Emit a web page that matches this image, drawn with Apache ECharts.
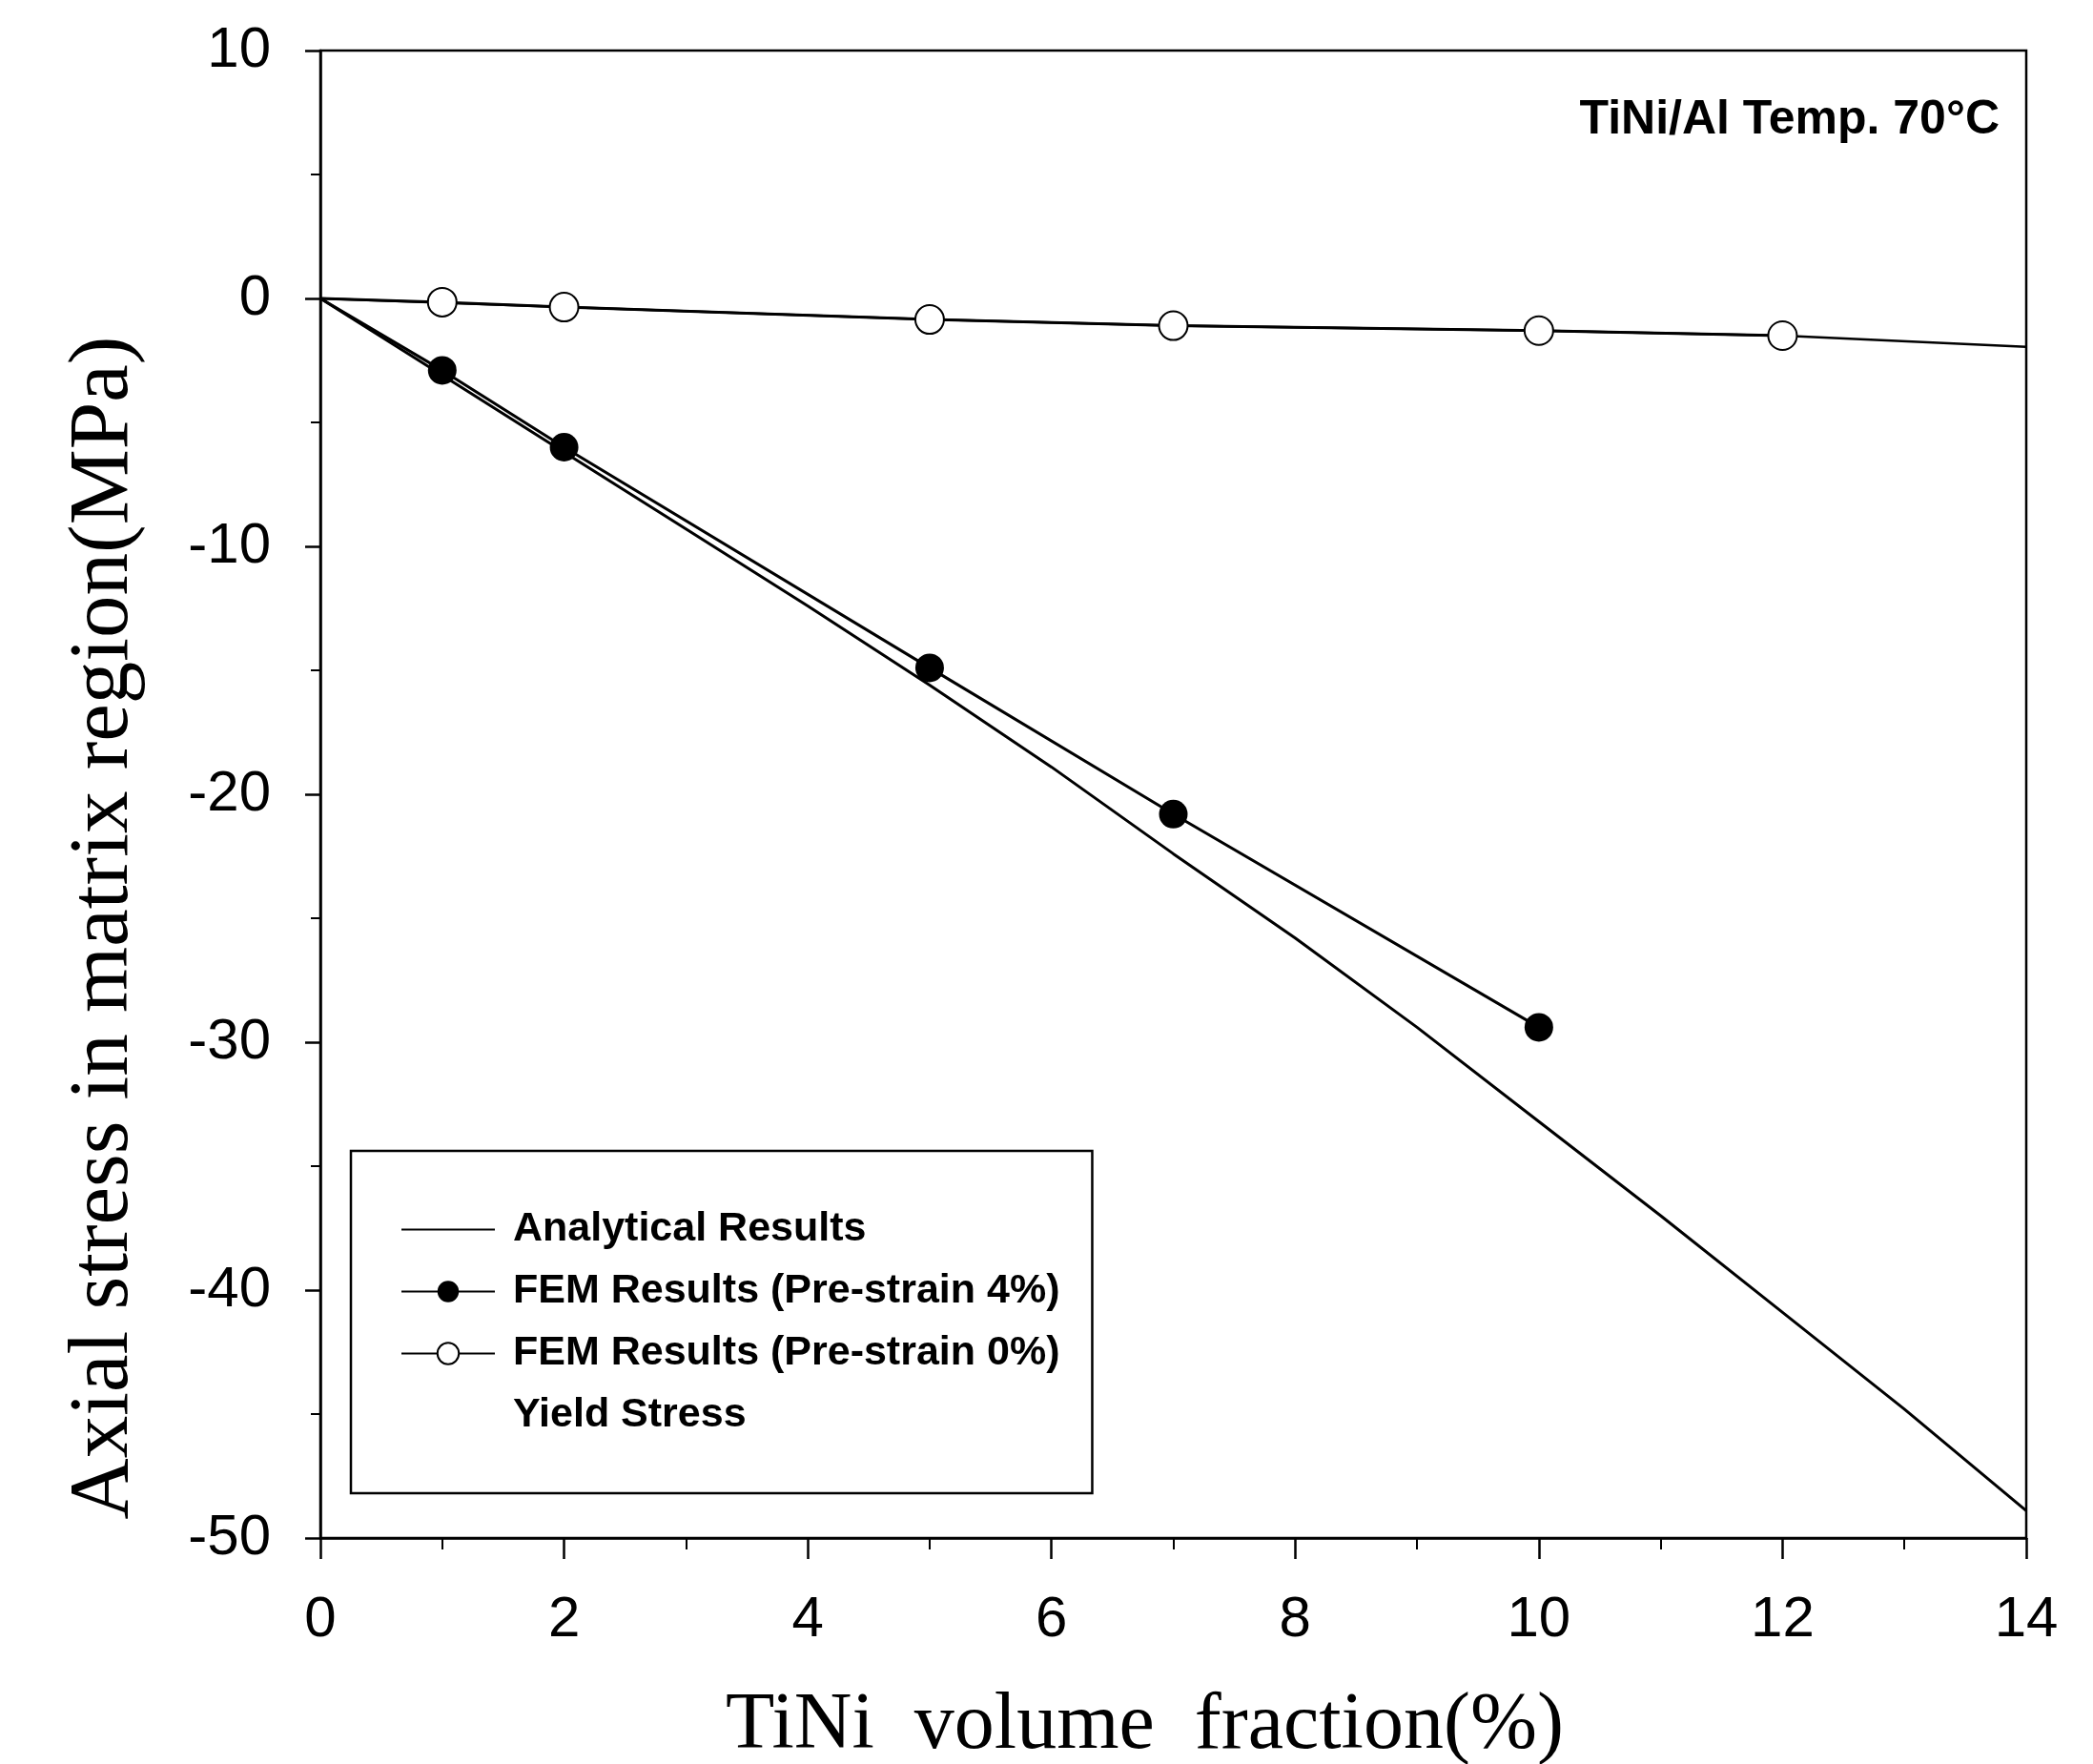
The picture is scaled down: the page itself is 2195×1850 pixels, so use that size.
<!DOCTYPE html>
<html>
<head>
<meta charset="utf-8">
<script src="https://cdn.jsdelivr.net/npm/echarts@6/dist/echarts.min.js"></script>
<style>
  html, body { margin: 0; padding: 0; background: #fff; }
  #chart { width: 2195px; height: 1850px; }
</style>
</head>
<body>
<div id="chart"></div>
<script>
// TiNi volume fraction (%) and axial stress in the Al matrix (MPa)
const analyticalX = [0, 1, 2, 3, 4, 5, 6, 7, 8, 9, 10, 11, 12, 13, 14];
const analyticalY = [0, -3.1, -6.2, -9.3, -12.4, -15.6, -18.9, -22.4, -25.8, -29.4, -33.2, -37.0, -40.9, -44.8, -48.9];

const fem4X = [0, 1, 2, 5, 7, 10];
const fem4Y = [0, -2.9, -6.0, -14.9, -20.8, -29.4];

const fem0X = [0, 1, 2, 5, 7, 10, 12];
const fem0Y = [0, -0.15, -0.35, -0.85, -1.1, -1.3, -1.5];

const trend0X = [0, 2, 5, 7, 10, 12, 14];
const trend0Y = [0, -0.35, -0.85, -1.1, -1.3, -1.5, -1.95];

const xTicks = { min: 0, max: 14, interval: 2 };
const yTicks = { min: -50, max: 10, interval: 10 };

const seriesNames = [
  'Analytical Results',
  'FEM Results (Pre-strain 4%)',
  'FEM Results (Pre-strain 0%)',
  'Yield Stress'
];

function pairs(xs, ys, hideFirstSymbol) {
  return xs.map((x, i) => {
    const item = { value: [x, ys[i]] };
    if (hideFirstSymbol && i === 0) item.symbol = 'none';
    return item;
  });
}

const sansFont = '"Liberation Sans", Arial, sans-serif';
const serifFont = '"Liberation Serif", "Times New Roman", serif';

const chart = echarts.init(document.getElementById('chart'), null, { renderer: 'canvas' });

chart.setOption({
  animation: false,
  backgroundColor: '#fff',
  grid: {
    left: 336, right: 70, top: 53, bottom: 237,
    outerBoundsMode: 'none',
    containLabel: false,
    show: true, borderColor: '#000', borderWidth: 2.5, backgroundColor: 'transparent'
  },
  title: {
    text: 'TiNi/Al Temp. 70°C',
    right: 93, top: 96,
    textStyle: { fontFamily: sansFont, fontSize: 50, fontWeight: 'bold', color: '#000' }
  },
  legend: {
    orient: 'vertical',
    left: 368, top: 1207,
    padding: [61, 34, 60, 52],
    itemGap: 22,
    itemWidth: 98, itemHeight: 28,
    borderColor: '#000', borderWidth: 2.5,
    data: [
      // line-only key for the analytical curve
      { name: seriesNames[0], itemStyle: { opacity: 0 } },
      { name: seriesNames[1] },
      { name: seriesNames[2] },
      { name: seriesNames[3] }
    ],
    selectedMode: false,
    textStyle: { fontFamily: sansFont, fontSize: 43, fontWeight: 'bold', color: '#000', lineHeight: 42, padding: [0, 0, 0, 14] }
  },
  xAxis: {
    type: 'value',
    min: xTicks.min, max: xTicks.max, interval: xTicks.interval,
    name: 'TiNi  volume  fraction(%)',
    nameLocation: 'middle',
    nameGap: 156,
    nameTextStyle: { fontFamily: serifFont, fontSize: 84, color: '#000', padding: [0, 60, 0, 0] },
    axisLine: { onZero: false, lineStyle: { color: '#000', width: 2.5 } },
    axisTick: { show: true, inside: false, length: 22, lineStyle: { color: '#000', width: 2.5 } },
    minorTick: { show: true, splitNumber: 2, length: 12, lineStyle: { color: '#000', width: 2 } },
    axisLabel: { margin: 56, fontFamily: sansFont, fontSize: 60, color: '#000' },
    splitLine: { show: false }
  },
  yAxis: {
    type: 'value',
    min: yTicks.min, max: yTicks.max, interval: yTicks.interval,
    name: 'Axial stress in matrix region(MPa)',
    nameLocation: 'middle',
    nameGap: 182,
    nameRotate: 90,
    nameTextStyle: { fontFamily: serifFont, fontSize: 89, color: '#000', padding: [0, 280, 0, 0] },
    axisLine: { onZero: false, lineStyle: { color: '#000', width: 2.5 } },
    axisTick: { show: true, inside: false, length: 16, lineStyle: { color: '#000', width: 2.5 } },
    minorTick: { show: true, splitNumber: 2, length: 10, lineStyle: { color: '#000', width: 2 } },
    axisLabel: { margin: 52, fontFamily: sansFont, fontSize: 60, color: '#000' },
    splitLine: { show: false }
  },
  series: [
    {
      name: seriesNames[0],
      type: 'line',
      data: pairs(analyticalX, analyticalY, false),
      symbol: 'none',
      lineStyle: { color: '#000', width: 3 },
      itemStyle: { color: '#000' },
      z: 2
    },
    {
      name: seriesNames[1],
      type: 'line',
      data: pairs(fem4X, fem4Y, true),
      symbol: 'circle',
      symbolSize: 30,
      lineStyle: { color: '#000', width: 3 },
      itemStyle: { color: '#000' },
      z: 3
    },
    {
      name: seriesNames[2],
      type: 'line',
      data: pairs(fem0X, fem0Y, true),
      symbol: 'emptyCircle',
      symbolSize: 30,
      lineStyle: { color: '#000', width: 3 },
      itemStyle: { color: '#000', borderWidth: 3 },
      z: 4
    },
    {
      name: seriesNames[3],
      type: 'line',
      data: [],
      symbol: 'none',
      lineStyle: { opacity: 0 },
      itemStyle: { opacity: 0 }
    },
    {
      name: 'Analytical (Pre-strain 0%)',
      type: 'line',
      data: pairs(trend0X, trend0Y, false),
      symbol: 'none',
      lineStyle: { color: '#000', width: 2.5 },
      z: 2
    }
  ]
});
</script>
</body>
</html>
